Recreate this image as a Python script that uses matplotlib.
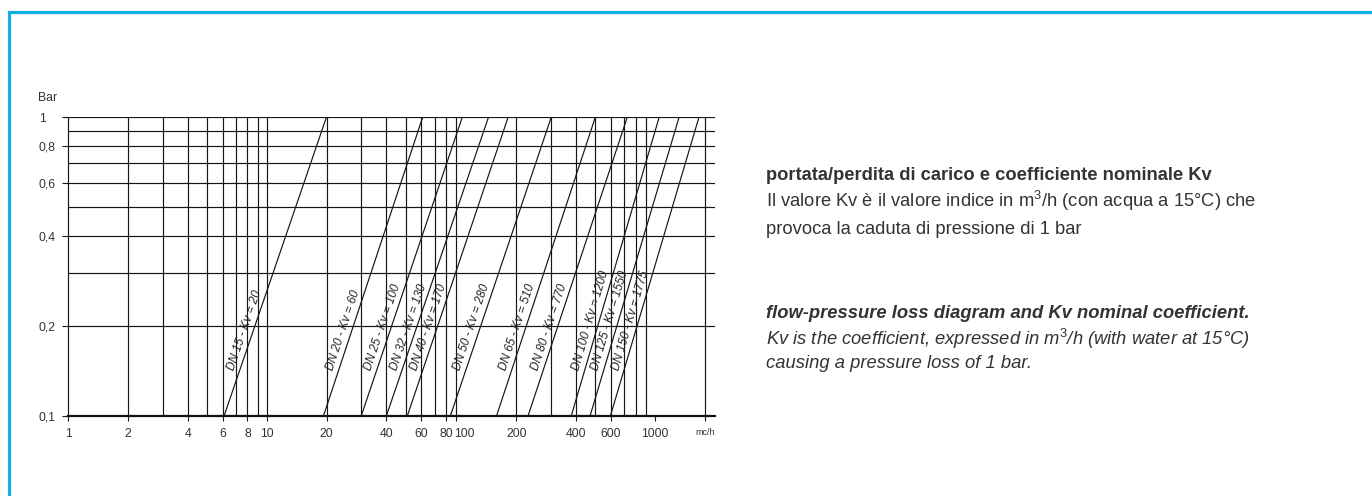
import numpy as np
import matplotlib
matplotlib.use("Agg")
import matplotlib.pyplot as plt
from matplotlib.patches import Rectangle
from matplotlib.transforms import ScaledTranslation

plt.rcParams['font.family'] = ['Liberation Sans', 'DejaVu Sans']
plt.rcParams['mathtext.fontset'] = 'custom'
plt.rcParams['mathtext.rm'] = 'Liberation Sans'
plt.rcParams['mathtext.it'] = 'Liberation Sans:italic'

# valve curves: flow (m3/h) read at 0.1 bar and at 1 bar
labels = ["DN 15 - Kv = 20", "DN 20 - Kv = 60", "DN 25 - Kv = 100",
          "DN 32 - Kv = 130", "DN 40 - Kv = 170", "DN 50 - Kv = 280",
          "DN 65 - Kv = 510", "DN 80 - Kv = 770", "DN 100 - Kv = 1200",
          "DN 125 - Kv = 1550", "DN 150 - Kv = 1775"]
q_at_low = [6.1, 19.3, 29.9, 40, 51, 84, 159, 229, 378, 470, 595]
q_at_high = [20, 61, 107, 145, 182, 300, 500, 724, 1048, 1320, 1662]
dp_low, dp_high = 0.1, 1.0

# grid and ticks
x_grid = [2, 3, 4, 5, 6, 7, 8, 9, 10, 20, 30, 40, 50, 60, 70, 80, 90,
          200, 300, 400, 500, 600, 700, 800, 900, 1780]
x_ticks = [1, 2, 4, 6, 8, 10, 20, 40, 60, 80, 100, 200, 400, 600, 1000, 1780]
x_ticklabels = ["1", "2", "4", "6", "8", "10", "20", "40", "60", "80", "100",
                "200", "400", "600", "1000", "mc/h"]
y_grid = [0.2, 0.3, 0.4, 0.5, 0.6, 0.7, 0.8, 0.9, 1.0]
y_ticks = [0.1, 0.2, 0.4, 0.6, 0.8, 1.0]
y_ticklabels = ["0,1", "0,2", "0,4", "0,6", "0,8", "1"]

# the printed diagram joins the 90 and 100 lines: log scale with that gap squeezed out
A = np.log10(90)
GAP = 1e-3


def fwd(x):
    x = np.clip(np.asarray(x, dtype=float), 1e-9, None)
    lx = np.log10(x)
    return np.where(x <= 90, lx,
                    np.where(x < 100, A + GAP * (x - 90) / 10, lx - 2 + A + GAP))


def inv(y):
    y = np.asarray(y, dtype=float)
    with np.errstate(over='ignore'):
        return np.where(y <= A, 10 ** y,
                        np.where(y < A + GAP, 90 + (y - A) / GAP * 10,
                                 10 ** (y - A - GAP + 2)))


fig = plt.figure(figsize=(13.72, 4.96), dpi=100)
ax = fig.add_axes([68 / 1372, 80 / 496, 647 / 1372, 299 / 496])
ax.set_xscale('function', functions=(fwd, inv))
ax.set_yscale('log')
ax.set_xlim(1, 2000)
ax.set_ylim(0.1, 1.0)

grid_kw = dict(color='#151515', lw=0.85, zorder=1)
for gx in x_grid:
    ax.axvline(gx, **grid_kw)
for gy in y_grid:
    ax.axhline(gy, **grid_kw)

for side in ['top', 'right']:
    ax.spines[side].set_visible(False)
ax.spines['left'].set_linewidth(0.85)
ax.spines['left'].set_color('#151515')
ax.spines['bottom'].set_linewidth(1.6)
ax.spines['bottom'].set_color('#111111')

ax.xaxis.set_major_locator(matplotlib.ticker.FixedLocator(x_ticks))
ax.xaxis.set_minor_locator(matplotlib.ticker.NullLocator())
ax.set_xticklabels(x_ticklabels)
ax.yaxis.set_major_locator(matplotlib.ticker.FixedLocator(y_ticks))
ax.yaxis.set_minor_locator(matplotlib.ticker.NullLocator())
ax.set_yticklabels(y_ticklabels)
ax.tick_params(axis='x', length=3.6, width=0.8, pad=5, labelsize=8.8,
               labelcolor='#333333', color='#151515')
ax.tick_params(axis='y', length=4.3, width=0.8, pad=16.6, labelsize=8.8,
               labelcolor='#333333', color='#151515')
for t in ax.get_yticklabels():
    t.set_horizontalalignment('left')
xlabs = ax.get_xticklabels()
xlabs[-1].set_fontsize(6.5)
# "100" sits just right of "80" in the original print
xlabs[10].set_transform(xlabs[10].get_transform() + ScaledTranslation(8 / 100, 0, fig.dpi_scale_trans))

ax.text(-0.047, 1.065, "Bar", transform=ax.transAxes, fontsize=8.8,
        color='#333333', ha='left', va='center')

label_dp = 0.14
for lab, lo, hi in zip(labels, q_at_low, q_at_high):
    ax.plot([lo, hi], [dp_low, dp_high], color='#151515', lw=0.85, zorder=2)
    p0 = ax.transData.transform((lo, dp_low))
    p1 = ax.transData.transform((hi, dp_high))
    t = np.log10(label_dp / dp_low) / np.log10(dp_high / dp_low)
    anchor = p0 + t * (p1 - p0)
    ang = np.arctan2(p1[1] - p0[1], p1[0] - p0[0])
    anchor = anchor + 2.0 * np.array([-np.sin(ang), np.cos(ang)])
    xd, yd = ax.transData.inverted().transform(anchor)
    ax.text(xd, yd, lab, rotation=np.degrees(ang), rotation_mode='anchor',
            ha='left', va='bottom', fontsize=8.5, fontstyle='italic',
            color='#222222', zorder=3)

# description on the right
txt_kw = dict(color='#333333', fontsize=13.2, ha='left', va='center')
x0 = 766 / 1372
fig.text(x0, 1 - 175 / 496, "portata/perdita di carico e coefficiente nominale Kv",
         fontweight='bold', **txt_kw)
fig.text(x0, 1 - 201 / 496,
         r"Il valore Kv è il valore indice in m$^3$/h (con acqua a 15°C) che", **txt_kw)
fig.text(x0, 1 - 229 / 496, "provoca la caduta di pressione di 1 bar", **txt_kw)
fig.text(x0, 1 - 313 / 496, "flow-pressure loss diagram and Kv nominal coefficient.",
         fontweight='bold', fontstyle='italic', **txt_kw)
fig.text(x0, 1 - 339 / 496,
         r"Kv is the coefficient, expressed in m$^3$/h (with water at 15°C)",
         fontstyle='italic', **txt_kw)
fig.text(x0, 1 - 363 / 496, "causing a pressure loss of 1 bar.",
         fontstyle='italic', **txt_kw)

# cyan frame, only its top and left edges fall inside the picture
frame = Rectangle((8.5 / 1372, -0.1), 1.2, 1.1 - 12 / 496, transform=fig.transFigure,
                  fill=False, edgecolor='#12aee8', lw=2.3, clip_on=False)
fig.patches.append(frame)

fig.savefig("out.png", dpi=100)
